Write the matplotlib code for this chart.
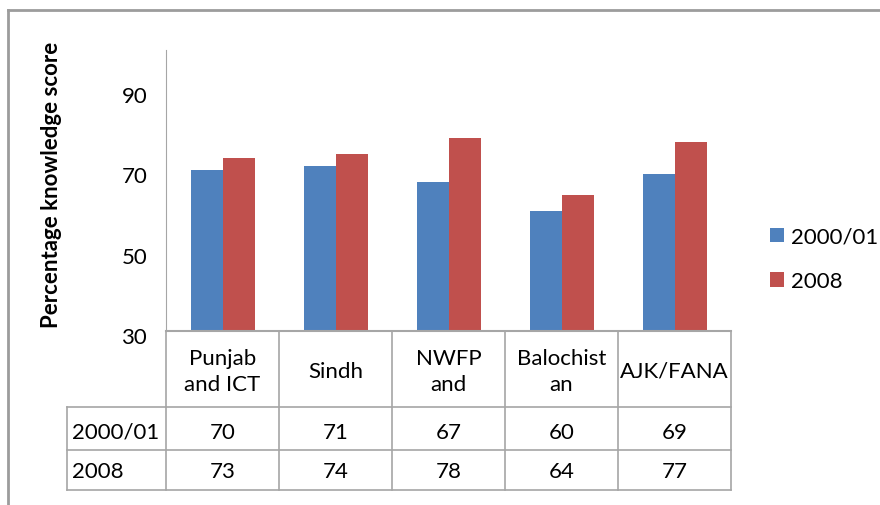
import matplotlib
matplotlib.use("Agg")
import matplotlib.pyplot as plt
from matplotlib.lines import Line2D
from matplotlib.transforms import ScaledTranslation
import numpy as np

plt.rcParams['font.family'] = ['Lato', 'DejaVu Sans']

# data
categories = ['Punjab\nand ICT', 'Sindh', 'NWFP\nand', 'Balochist\nan', 'AJK/FANA']
series_names = ['2000/01', '2008']
scores_2000 = [70, 71, 67, 60, 69]
scores_2008 = [73, 74, 78, 64, 77]
yticks = [30, 50, 70, 90]

blue = '#4F81BD'
red = '#C0504D'
grid_col = '#A6A6A6'
fs = 16

W, H = 880, 506
fig = plt.figure(figsize=(W / 100, H / 100), dpi=100)

# plot area in pixels
left, right, top, bottom = 166, 731, 51, 332
ax = fig.add_axes([left / W, 1 - bottom / H, (right - left) / W, (bottom - top) / H])

x = np.arange(len(categories))
bw = 32 / 113
ax.bar(x - bw / 2, scores_2000, bw, color=blue, label=series_names[0])
ax.bar(x + bw / 2, scores_2008, bw, color=red, label=series_names[1])

ax.set_xlim(-0.5, len(categories) - 0.5)
ax.set_ylim(30, 100)
ax.set_yticks(yticks)
ax.tick_params(axis='y', length=0, pad=13.5, labelsize=fs)
for lab in ax.get_yticklabels():
    lab.set_transform(lab.get_transform() + ScaledTranslation(0, -0.04, fig.dpi_scale_trans))
ax.set_xticks([])
for s in ['top', 'right']:
    ax.spines[s].set_visible(False)
ax.spines['left'].set_color(grid_col)
ax.spines['bottom'].set_color(grid_col)
ax.spines['bottom'].set_linewidth(1.5)

ax.set_ylabel('Percentage knowledge score', fontsize=16, fontweight='bold', labelpad=0)
ax.yaxis.set_label_coords((62 - left) / (right - left), (bottom - 185) / (bottom - top))

# data table under the axis
ph = bottom - top
def yax(py):
    return (bottom - py) / ph

tr = ax.get_xaxis_transform()
kw = dict(color=grid_col, lw=1.2, clip_on=False)
ax.plot([-0.5, len(categories) - 0.5], [yax(408)] * 2, transform=tr, **kw)
x_lab = -0.5 - 99 / 113
for py in [451, 491]:
    ax.plot([x_lab, len(categories) - 0.5], [yax(py)] * 2, transform=tr, **kw)
ax.plot([x_lab, -0.5], [yax(408)] * 2, transform=tr, **kw)
for i in range(len(categories) + 1):
    ax.plot([i - 0.5] * 2, [yax(332), yax(491)], transform=tr, **kw)
ax.plot([x_lab] * 2, [yax(408), yax(491)], transform=tr, **kw)

for i, c in enumerate(categories):
    ax.text(i, yax(372), c, transform=tr, ha='center', va='center',
            fontsize=fs, linespacing=1.4)
rows = [scores_2000, scores_2008]
row_y = [433, 472]
for name, vals, py in zip(series_names, rows, row_y):
    ax.text(x_lab + 5 / 113, yax(py), name, transform=tr, ha='left', va='center', fontsize=fs)
    for i, v in enumerate(vals):
        ax.text(i, yax(py), str(v), transform=tr, ha='center', va='center', fontsize=fs)

# legend
ax.legend(loc='center left', bbox_to_anchor=(770 / W, 1 - 260 / H), bbox_transform=fig.transFigure,
          frameon=False, fontsize=fs, handlelength=0.63, handleheight=0.63,
          handletextpad=0.32, labelspacing=1.1, borderpad=0, borderaxespad=0)

# chart frame (top and left edges visible)
fig.add_artist(Line2D([8 / W, 1], [1 - 11 / H] * 2, color='#9C9C9C', lw=2))
fig.add_artist(Line2D([8 / W] * 2, [0, 1 - 11 / H], color='#9C9C9C', lw=2))

fig.savefig('out.png', dpi=100)
